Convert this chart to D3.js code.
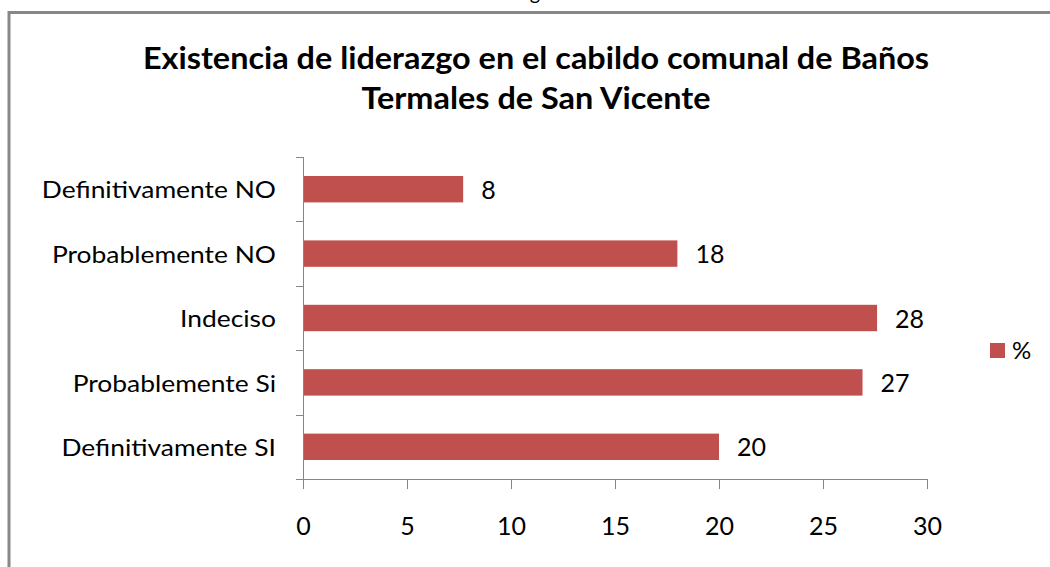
<!DOCTYPE html>
<html>
<head>
<meta charset="utf-8">
<script src="https://cdn.jsdelivr.net/npm/d3@7"></script>
<style>
  body { margin: 0; background: #fff; }
  text { font-family: Lato, "Open Sans", sans-serif; fill: #000; }
</style>
</head>
<body>
<div id="chart"></div>
<script>
// Data
const categories = ['Definitivamente NO', 'Probablemente NO', 'Indeciso', 'Probablemente Si', 'Definitivamente SI'];
const percent = [7.7, 18, 27.6, 26.9, 20];
const xTicks = [0, 5, 10, 15, 20, 25, 30];
const seriesName = '%';
const titleLines = ['Existencia de liderazgo en el cabildo comunal de Baños', 'Termales de San Vicente'];

const data = categories.map((c, i) => ({ cat: c, val: percent[i] }));

const width = 1050;
const height = 567;
const leftMargin = 303;
const topMargin = 157;
const plotWidth = 624;
const plotHeight = 322;
const barColor = '#c0504d';
const axisColor = '#868686';

// Widen text a bit, the original font is taller and wider than Lato
function stretch(sel, factor) {
  sel.each(function () {
    const len = this.getComputedTextLength();
    d3.select(this)
      .attr('textLength', len * factor)
      .attr('lengthAdjust', 'spacingAndGlyphs');
  });
}

const svg = d3
  .select('#chart')
  .append('svg')
  .attr('width', width)
  .attr('height', height);

// Outer frame of the chart (right and bottom edges are cut off)
svg
  .append('path')
  .attr('d', 'M9,' + (height + 5) + ' L9,12.5 L' + (width + 5) + ',12.5')
  .attr('fill', 'none')
  .attr('stroke', '#888')
  .attr('stroke-width', 3);

// Cut-off caption above the frame
svg
  .append('text')
  .attr('x', 535)
  .attr('y', 0)
  .attr('text-anchor', 'middle')
  .style('font-size', '20px')
  .text('g');

// Title
const title = svg
  .selectAll('.title')
  .data(titleLines)
  .enter()
  .append('text')
  .attr('class', 'title')
  .attr('x', 536)
  .attr('y', (d, i) => 69 + i * 40)
  .attr('text-anchor', 'middle')
  .style('font-size', '30px')
  .style('font-weight', 'bold')
  .text((d) => d);
stretch(title, 1.08);

const g = svg
  .append('g')
  .attr('transform', 'translate(' + leftMargin + ',' + topMargin + ')');

// Scales
const x = d3.scaleLinear().domain([0, 30]).range([0, plotWidth]);

const y = d3
  .scaleBand()
  .domain(categories)
  .range([0, plotHeight])
  .paddingInner(0.59)
  .paddingOuter(0.295);

// Bars
g.selectAll('.bar')
  .data(data)
  .enter()
  .append('rect')
  .attr('class', 'bar')
  .attr('x', 0)
  .attr('y', (d) => y(d.cat))
  .attr('width', (d) => x(d.val))
  .attr('height', y.bandwidth())
  .style('fill', barColor);

// Value labels
g.selectAll('.value')
  .data(data)
  .enter()
  .append('text')
  .attr('class', 'value')
  .attr('x', (d) => x(d.val) + 18)
  .attr('y', (d) => y(d.cat) + y.bandwidth() / 2)
  .attr('dy', '0.38em')
  .style('font-size', '25px')
  .text((d) => d3.format('.0f')(d.val));

// Y axis: labels only, then line + ticks at band boundaries
const yAxis = g
  .append('g')
  .call(d3.axisLeft(y).tickSize(0).tickPadding(27));
yAxis.select('.domain').remove();
yAxis
  .selectAll('text')
  .attr('dy', '0.38em')
  .style('font-size', '24px')
  .style('font-family', 'Lato, sans-serif');
stretch(yAxis.selectAll('text'), 1.1);

const bounds = categories.map((c) => y(c) - (y.step() * y.paddingInner()) / 2).concat([plotHeight]);
g.selectAll('.ytick')
  .data(bounds)
  .enter()
  .append('line')
  .attr('x1', -7)
  .attr('x2', 0)
  .attr('y1', (d) => Math.round(d) + 0.5)
  .attr('y2', (d) => Math.round(d) + 0.5)
  .attr('stroke', axisColor);
g.append('line')
  .attr('x1', 0.5)
  .attr('x2', 0.5)
  .attr('y1', 0)
  .attr('y2', plotHeight)
  .attr('stroke', axisColor);

// X axis
const xAxis = g
  .append('g')
  .attr('transform', 'translate(0,' + plotHeight + ')')
  .call(d3.axisBottom(x).tickValues(xTicks).tickSize(10).tickSizeOuter(0));
xAxis.select('.domain').attr('stroke', axisColor);
xAxis.selectAll('.tick line').attr('stroke', axisColor);
xAxis
  .selectAll('text')
  .attr('y', 56)
  .attr('dy', 0)
  .style('font-size', '25px')
  .style('font-family', 'Lato, sans-serif');

// Legend
const legend = svg.append('g').attr('transform', 'translate(990,343)');
legend
  .append('rect')
  .attr('width', 15)
  .attr('height', 15)
  .style('fill', barColor);
legend
  .append('text')
  .attr('x', 22)
  .attr('y', 16)
  .style('font-size', '24px')
  .text(seriesName);
</script>
</body>
</html>
